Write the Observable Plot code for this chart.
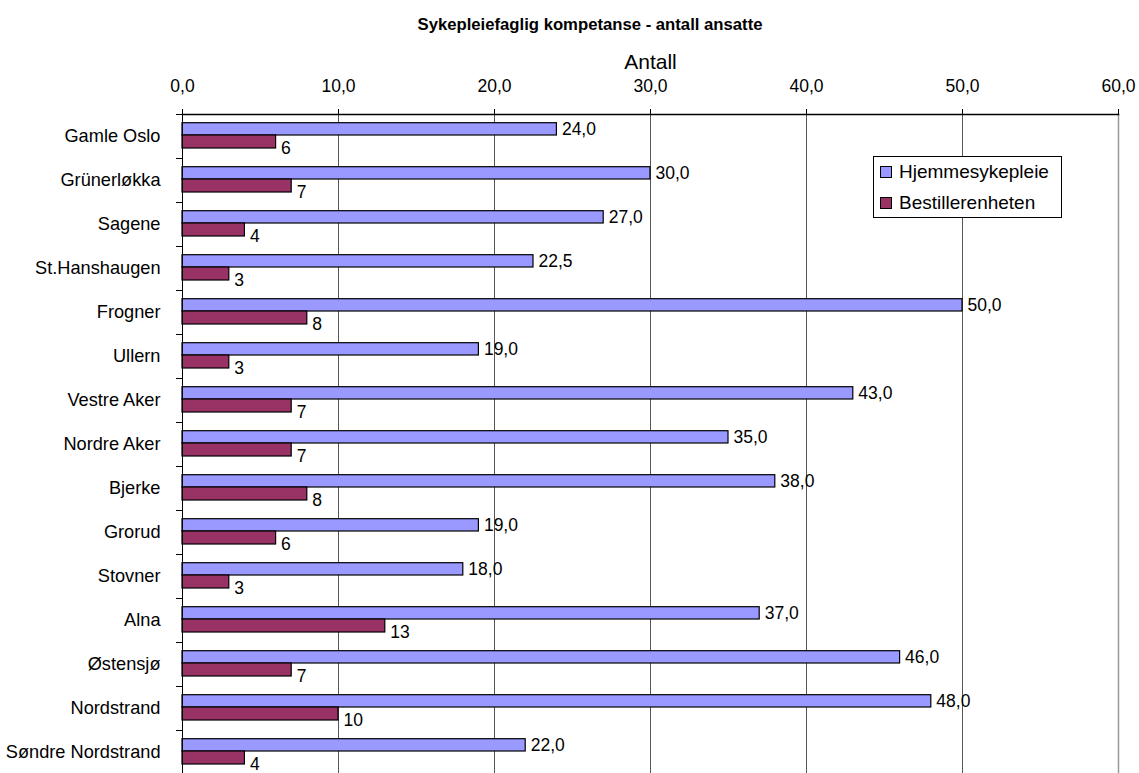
<!DOCTYPE html>
<html>
<head>
<meta charset="utf-8">
<script src="https://cdn.jsdelivr.net/npm/d3@7"></script>
<script src="https://cdn.jsdelivr.net/npm/@observablehq/plot@0.6"></script>
<style>
  body { margin: 0; background: #fff; font-family: "Liberation Sans", Arial, sans-serif; }
  #wrap { position: relative; width: 1139px; height: 773px; overflow: hidden; }
  #title { height: 40px; width: 1139px; position: relative; }
  #title span { position: absolute; left: 590px; top: 25px; transform: translate(-50%, -50%);
    font-weight: bold; font-size: 16.7px; white-space: nowrap; color: #000; }
  #legend { position: absolute; left: 873px; top: 156px; width: 189px; height: 62px;
    border: 1px solid #000; background: #fff; box-sizing: border-box; font-size: 19px; }
  #legend .item { position: absolute; left: 6px; display: flex; align-items: center; }
  #legend .sw { width: 10px; height: 10px; border: 1px solid #000; margin-right: 7px; }
  svg { display: block; }
</style>
</head>
<body>
<div id="wrap">
  <div id="title"><span>Sykepleiefaglig kompetanse - antall ansatte</span></div>
  <div id="chart"></div>
  <div id="legend"></div>
</div>
<script>
const districts = ["Gamle Oslo","Grünerløkka","Sagene","St.Hanshaugen","Frogner","Ullern","Vestre Aker","Nordre Aker","Bjerke","Grorud","Stovner","Alna","Østensjø","Nordstrand","Søndre Nordstrand"];
const hjemmesykepleie = [24,30,27,22.5,50,19,43,35,38,19,18,37,46,48,22];
const bestillerenheten = [6,7,4,3,8,3,7,7,8,6,3,13,7,10,4];
const seriesNames = ["Hjemmesykepleie","Bestillerenheten"];
const seriesColors = ["#9999FF","#993366"];
const xTicks = [0,10,20,30,40,50,60];
const axisTitle = "Antall";

const hj = districts.map((d,i) => ({district: d, value: hjemmesykepleie[i]}));
const be = districts.map((d,i) => ({district: d, value: bestillerenheten[i]}));
const fmt1 = v => v.toFixed(1).replace(".", ",");
const font = "Liberation Sans, Arial, sans-serif";

const band = 44;
const chart = Plot.plot({
  width: 1139,
  height: 733,
  marginLeft: 182,
  marginRight: 21,
  marginTop: 74,
  marginBottom: 0,
  style: {fontFamily: font, fontSize: "17px", color: "#000", background: "#fff"},
  x: {domain: [0, 60]},
  y: {domain: districts, range: [74, 74 + band * districts.length], paddingInner: 0, paddingOuter: 0},
  marks: [
    Plot.ruleX(xTicks.filter(t => t > 0 && t < 60), {stroke: "#555", strokeWidth: 1, strokeOpacity: 1}),
    Plot.ruleX([60], {stroke: "#999", strokeWidth: 1.5, strokeOpacity: 1}),
    Plot.barX(hj, {x: "value", y: "district", fill: seriesColors[0], stroke: "#000", strokeWidth: 1.2, insetTop: 8.7, insetBottom: 23}),
    Plot.barX(be, {x: "value", y: "district", fill: seriesColors[1], stroke: "#000", strokeWidth: 1.2, insetTop: 21, insetBottom: 10}),
    Plot.text(hj, {x: "value", y: "district", text: d => fmt1(d.value), textAnchor: "start", dx: 5, dy: -7.2, fontSize: 17.5, fill: "#000"}),
    Plot.text(be, {x: "value", y: "district", text: d => String(d.value), textAnchor: "start", dx: 5, dy: 11.5, fontSize: 17.5, fill: "#000"}),
    Plot.ruleX([0], {stroke: "#000", strokeWidth: 1}),
    Plot.ruleY(districts, {y: d => d, dy: -band / 2, x1: 0, x2: 0, insetLeft: -6, stroke: "#000"}),
    Plot.frame({anchor: "top", stroke: "#000", strokeWidth: 1.5}),
    Plot.axisX({anchor: "top", ticks: xTicks, tickFormat: fmt1, tickSize: 6, tickPadding: 17, fontSize: 17.5, label: null}),
    Plot.axisY({tickSize: 0, tickPadding: 22, fontSize: 18.2, label: null}),
    Plot.text([axisTitle], {frameAnchor: "top", dy: -52, lineAnchor: "middle", text: d => d, fontSize: 21, fill: "#000"}),
  ]
});
document.getElementById("chart").appendChild(chart);

const legend = document.getElementById("legend");
seriesNames.forEach((name, i) => {
  const item = document.createElement("div");
  item.className = "item";
  item.style.top = (i === 0 ? 6 : 37) + "px";
  item.style.height = "18px";
  const sw = document.createElement("div");
  sw.className = "sw";
  sw.style.background = seriesColors[i];
  const t = document.createElement("span");
  t.textContent = name;
  item.appendChild(sw);
  item.appendChild(t);
  legend.appendChild(item);
});
</script>
</body>
</html>
